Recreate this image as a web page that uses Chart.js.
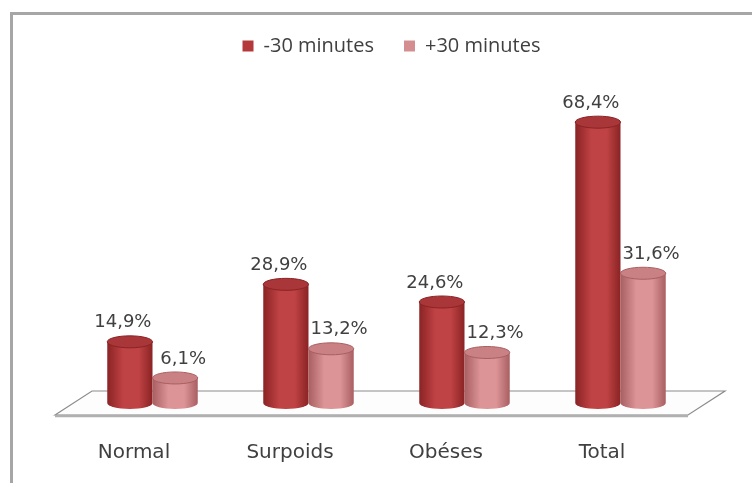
<!DOCTYPE html>
<html>
<head>
<meta charset="utf-8">
<script src="https://cdn.jsdelivr.net/npm/chart.js@4/dist/chart.umd.min.js"></script>
<style>
  html, body { margin: 0; padding: 0; background: #fff; }
  canvas { display: block; }
</style>
</head>
<body>
<canvas id="myChart" width="752" height="483"></canvas>
<script>
const categories = ["Normal", "Surpoids", "Obéses", "Total"];
const seriesNames = ["-30 minutes", "+30 minutes"];
const moins30 = [14.9, 28.9, 24.6, 68.4];
const plus30 = [6.1, 13.2, 12.3, 31.6];

// colours for each cylinder: [edge, light, top]
const shades = [
    ["#8a2324", "#bf4244", "#a93638"],
    ["#a95f62", "#dc9496", "#c98184"]
];

function fmt(v) {
    return v.toFixed(1).replace(".", ",") + "%";
}

// draw one cylinder, bottom ellipse at yBase, top ellipse at yTop
function cylinder(ctx, cx, w, yTop, yBase, c) {
    const rx = w / 2;
    const ry = 6;
    const grad = ctx.createLinearGradient(cx - rx, 0, cx + rx, 0);
    grad.addColorStop(0, c[0]);
    grad.addColorStop(0.35, c[1]);
    grad.addColorStop(0.7, c[1]);
    grad.addColorStop(1, c[0]);
    ctx.fillStyle = grad;
    ctx.beginPath();
    ctx.moveTo(cx - rx, yTop);
    ctx.lineTo(cx - rx, yBase);
    ctx.ellipse(cx, yBase, rx, ry, 0, Math.PI, 0, true);
    ctx.lineTo(cx + rx, yTop);
    ctx.closePath();
    ctx.fill();
    ctx.beginPath();
    ctx.ellipse(cx, yTop, rx, ry, 0, 0, Math.PI * 2);
    ctx.fillStyle = c[2];
    ctx.fill();
    ctx.strokeStyle = c[0];
    ctx.lineWidth = 1;
    ctx.stroke();
}

const frame = {
    id: "frame",
    beforeDraw(chart) {
        const ctx = chart.ctx;
        ctx.save();
        ctx.fillStyle = "#fff";
        ctx.fillRect(0, 0, chart.width, chart.height);
        ctx.strokeStyle = "#a6a6a6";
        ctx.lineWidth = 3;
        ctx.beginPath();
        ctx.moveTo(11.5, chart.height);
        ctx.lineTo(11.5, 13.5);
        ctx.lineTo(chart.width, 13.5);
        ctx.stroke();
        ctx.restore();
    }
};

const cylinders = {
    id: "cylinders",
    beforeDatasetsDraw(chart) {
        const ctx = chart.ctx;
        const area = chart.chartArea;
        const y0 = chart.scales.y.getPixelForValue(0);
        const depthX = 37, depthY = -24;
        const dx = depthX / 2, dy = depthY / 2;
        ctx.save();

        // floor
        const fl = area.left - 1, fr = area.right + 8;
        ctx.beginPath();
        ctx.moveTo(fl, y0);
        ctx.lineTo(fl + depthX, y0 + depthY);
        ctx.lineTo(fr + depthX, y0 + depthY);
        ctx.lineTo(fr, y0);
        ctx.closePath();
        ctx.fillStyle = "#fdfdfd";
        ctx.fill();
        ctx.strokeStyle = "#8c8c8c";
        ctx.lineWidth = 1.2;
        ctx.stroke();
        ctx.beginPath();
        ctx.moveTo(fl, y0 + 1);
        ctx.lineTo(fr, y0 + 1);
        ctx.strokeStyle = "#b0b0b0";
        ctx.lineWidth = 2.5;
        ctx.stroke();

        // bars as cylinders
        chart.data.datasets.forEach((ds, i) => {
            const meta = chart.getDatasetMeta(i);
            meta.data.forEach((bar) => {
                const p = bar.getProps(["x", "y", "base", "width"], true);
                cylinder(ctx, p.x + dx, p.width, p.y + dy, p.base + dy, shades[i]);
            });
        });

        // value labels
        ctx.font = "18px 'DejaVu Sans'";
        ctx.fillStyle = "#404040";
        ctx.textAlign = "center";
        ctx.textBaseline = "middle";
        chart.data.datasets.forEach((ds, i) => {
            const meta = chart.getDatasetMeta(i);
            meta.data.forEach((bar, j) => {
                const p = bar.getProps(["x", "y"], true);
                const shift = i === 0 ? -7 : 8;
                ctx.fillText(fmt(ds.data[j]), p.x + dx + shift, p.y + dy - 19);
            });
        });
        ctx.restore();
        return false;
    }
};

new Chart(document.getElementById("myChart"), {
    type: "bar",
    data: {
        labels: categories,
        datasets: [
            { label: seriesNames[0], data: moins30, backgroundColor: "#b5393b" },
            { label: seriesNames[1], data: plus30, backgroundColor: "#d48e90" }
        ]
    },
    options: {
        responsive: false,
        animation: false,
        devicePixelRatio: 1,
        layout: { padding: { left: 56, right: 25, top: 6, bottom: 18 } },
        datasets: { bar: { categoryPercentage: 0.58, barPercentage: 1 } },
        plugins: {
            legend: {
                position: "top",
                labels: {
                    boxWidth: 11,
                    boxHeight: 11,
                    padding: 30,
                    color: "#404040",
                    font: { family: "'Open Sans'", size: 20 }
                }
            },
            tooltip: { enabled: false }
        },
        scales: {
            x: {
                grid: { display: false },
                border: { display: false },
                ticks: {
                    color: "#404040",
                    padding: 18,
                    font: { family: "'DejaVu Sans'", size: 20 }
                },
                afterFit(scale) { scale.height = 50; }
            },
            y: {
                position: "right",
                min: 0,
                max: 85,
                grid: { display: false },
                border: { display: false },
                ticks: { display: false },
                afterFit(scale) { scale.width = 47; }
            }
        }
    },
    plugins: [frame, cylinders]
});
</script>
</body>
</html>
